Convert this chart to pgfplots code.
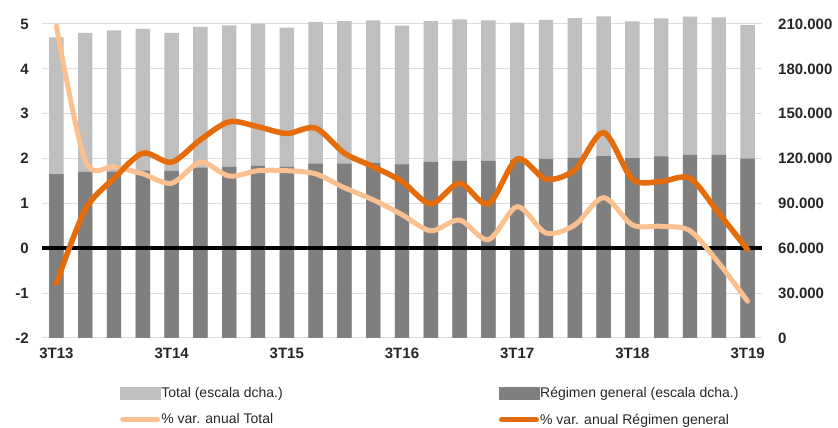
\documentclass[border=0pt]{standalone}
\usepackage{fontspec}
\setmainfont{Liberation Sans}
\usepackage{pgfplots}
\pgfplotsset{compat=1.18}
\definecolor{barL}{HTML}{BFBFBF}
\definecolor{barD}{HTML}{7F7F7F}
\definecolor{orL}{HTML}{FAC090}
\definecolor{orD}{HTML}{E46C0A}
\definecolor{gridc}{HTML}{DDDDDD}
\definecolor{txt}{HTML}{262626}
\begin{document}
\begin{tikzpicture}
\useasboundingbox (-42pt,-90pt) rectangle (796pt,338pt);
\begin{axis}[
  at={(0,0)}, anchor=south west,
  scale only axis, width=720pt, height=314pt,
  xmin=-0.5, xmax=24.5, ymin=0, ymax=210000,
  ybar, bar width=0.5, bar shift=0pt,
  ytick={0,30000,60000,90000,120000,150000,180000,210000},
  yticklabels={0,30.000,60.000,90.000,120.000,150.000,180.000,210.000},
  scaled y ticks=false,
  yticklabel pos=right,
  ymajorgrids, grid style={gridc, line width=1pt},
  axis line style={draw=none},
  major tick length=0pt,
  hide x axis,
  yticklabel style={font=\fontsize{15}{15}\selectfont\bfseries, text=txt, anchor=west, inner sep=0pt, xshift=16pt},
  clip=false,
]
\addplot[fill=barL, draw=none] coordinates {
(0,201100) (1,204000) (2,205800) (3,206700) (4,204000) (5,208000) (6,209100) (7,210200) (8,207500) (9,211300)
(10,212000) (11,212500) (12,208900) (13,212000) (14,213100) (15,212500) (16,210900) (17,212700) (18,214000) (19,215100)
(20,211800) (21,213800) (22,214900) (23,214500) (24,209300)};
\addplot[fill=barD, draw=none] coordinates {
(0,109600) (1,111100) (2,111300) (3,111900) (4,111800) (5,114000) (6,114500) (7,115100) (8,114500) (9,116700)
(10,116700) (11,117100) (12,116200) (13,117800) (14,118500) (15,118500) (16,119100) (17,119800) (18,120500) (19,121600)
(20,120300) (21,121400) (22,122500) (23,122500) (24,120000)};
\end{axis}
\begin{axis}[
  at={(0,0)}, anchor=south west,
  scale only axis, width=720pt, height=314pt,
  xmin=-0.5, xmax=24.5, ymin=-2, ymax=5,
  axis line style={draw=none},
  major tick length=0pt,
  ytick={-2,-1,0,1,2,3,4,5},
  yticklabels={-2,-1,0,1,2,3,4,5},
  xtick={0,4,8,12,16,20,24},
  xticklabels={3T13,3T14,3T15,3T16,3T17,3T18,3T19},
  yticklabel style={font=\fontsize{15}{15}\selectfont\bfseries, text=txt, anchor=east, inner sep=0pt, xshift=-13pt},
  xticklabel style={font=\fontsize{15}{15}\selectfont\bfseries, text=txt, anchor=north, inner sep=0pt, yshift=-10pt},
  clip=false,
  legend columns=2,
  legend cell align=left,
  legend style={at={(0.108,-0.152)}, anchor=north west, draw=none, fill=none,
    font=\fontsize{14}{14}\selectfont, text=txt, inner sep=0pt,
    nodes={inner sep=1pt}, row sep=13pt,
    /tikz/every even column/.append style={column sep=215pt}},
]
\addlegendimage{legend image code/.code={\fill[barL] (0pt,-6pt) rectangle (40pt,6pt);}}
\addlegendentry{Total (escala dcha.)}
\addlegendimage{legend image code/.code={\fill[barD] (0pt,-6pt) rectangle (40pt,6pt);}}
\addlegendentry{Régimen general (escala dcha.)}
\addplot[black, line width=4pt, forget plot] coordinates {(-0.5,0) (24.5,0)};
\addplot[orL, line width=5pt, smooth, line cap=round, line join=round,
  legend image code/.code={\draw[orL, line width=5pt, line cap=round] (2.5pt,0pt) -- (37.5pt,0pt);}] coordinates {
(0,4.95) (1,1.95) (2,1.82) (3,1.66) (4,1.45) (5,1.92) (6,1.61) (7,1.73) (8,1.73) (9,1.66)
(10,1.35) (11,1.08) (12,0.75) (13,0.39) (14,0.63) (15,0.19) (16,0.93) (17,0.34) (18,0.52) (19,1.13)
(20,0.52) (21,0.49) (22,0.39) (23,-0.33) (24,-1.18)};
\addlegendentry{\% var. anual Total}
\addplot[orD, line width=5.5pt, smooth, line cap=round, line join=round,
  legend image code/.code={\draw[orD, line width=5.5pt, line cap=round] (2.75pt,0pt) -- (37.25pt,0pt);}] coordinates {
(0,-0.78) (1,0.86) (2,1.56) (3,2.12) (4,1.92) (5,2.42) (6,2.82) (7,2.71) (8,2.56) (9,2.68)
(10,2.12) (11,1.82) (12,1.49) (13,0.99) (14,1.45) (15,0.99) (16,1.99) (17,1.54) (18,1.75) (19,2.58)
(20,1.54) (21,1.49) (22,1.56) (23,0.78) (24,-0.03)};
\addlegendentry{\% var. anual Régimen general}
\end{axis}
\end{tikzpicture}
\end{document}
